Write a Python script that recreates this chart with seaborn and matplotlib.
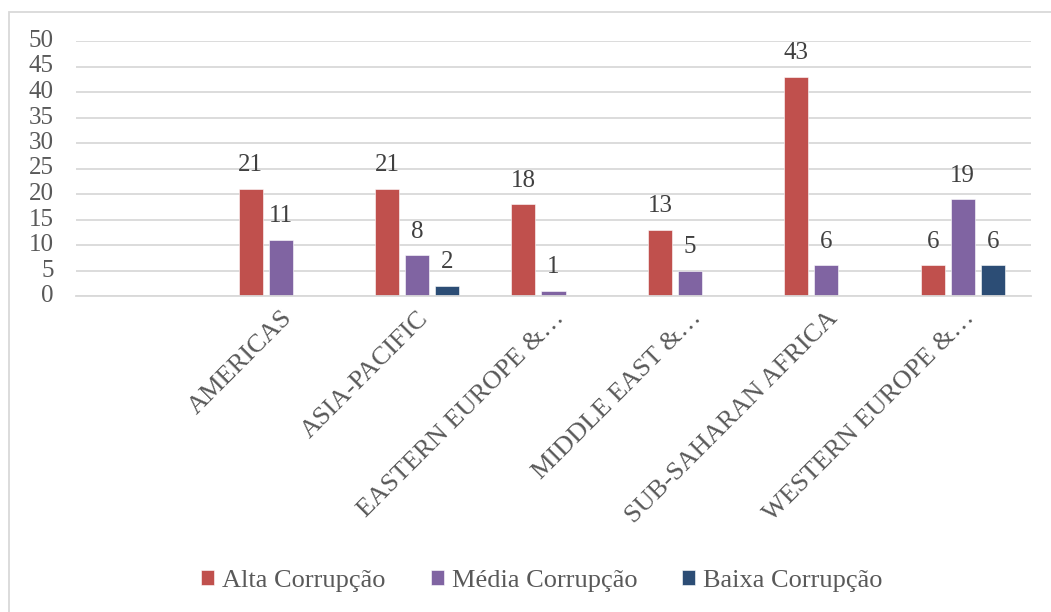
import numpy as np
import pandas as pd
import matplotlib
matplotlib.use("Agg")
import matplotlib.pyplot as plt
from matplotlib.patches import Rectangle
import seaborn as sns

# ---- data ----
regions = ["AMERICAS", "ASIA-PACIFIC", "EASTERN EUROPE &…", "MIDDLE EAST &…",
           "SUB-SAHARAN AFRICA", "WESTERN EUROPE &…"]
series = ["Alta Corrupção", "Média Corrupção", "Baixa Corrupção"]
alta = [21, 21, 18, 13, 43, 6]
media = [11, 8, 1, 5, 6, 19]
baixa = [np.nan, 2, np.nan, np.nan, np.nan, 6]
yticks = [0, 5, 10, 15, 20, 25, 30, 35, 40, 45, 50]
colors = ["#C0504D", "#8064A2", "#2C4D75"]

rows = []
for s, vals in zip(series, [alta, media, baixa]):
    for r, v in zip(regions, vals):
        if not np.isnan(v):
            rows.append({"Região": r, "Série": s, "Valor": v})
df = pd.DataFrame(rows)

sns.set_theme(style="white")
plt.rcParams["font.family"] = ["Liberation Serif", "DejaVu Serif"]
text_color = "#595959"
grid_color = "#D9D9D9"

fig = plt.figure(figsize=(10.51, 6.12), dpi=100)
ax = fig.add_axes([76 / 1051, 1 - 296 / 612, (1031 - 76) / 1051, (296 - 41) / 612])

order = [""] + regions
sns.barplot(data=df, x="Região", y="Valor", hue="Série", order=order,
            hue_order=series, palette=colors, width=0.66, gap=0.2,
            saturation=1, ax=ax, edgecolor="white", linewidth=0.4)

handles = ax.get_legend().legend_handles
ax.get_legend().remove()

for cont in ax.containers:
    ax.bar_label(cont, fmt="%g", padding=9, fontsize=18, color="#404040")

ax.set_ylim(0, 50)
ax.set_yticks(yticks)
ax.set_xlim(-0.5, len(order) - 0.5)
ax.set_xlabel("")
ax.set_ylabel("")
ax.yaxis.grid(True, color=grid_color, linewidth=1.3)
ax.set_axisbelow(True)
for side in ["left", "right", "top"]:
    ax.spines[side].set_visible(False)
ax.spines["bottom"].set_color(grid_color)
ax.spines["bottom"].set_linewidth(1.3)
ax.tick_params(axis="y", length=0, pad=16, labelsize=18, labelcolor=text_color)
ax.tick_params(axis="x", length=0, pad=8, labelsize=19, labelcolor=text_color)
for lbl in ax.get_yticklabels():
    lbl.set_verticalalignment("center")
for lbl in ax.get_xticklabels():
    lbl.set_rotation(45)
    lbl.set_ha("right")
    lbl.set_va("top")
    lbl.set_rotation_mode("anchor")

leg = fig.legend(handles, series, loc="center", bbox_to_anchor=(542 / 1051, 1 - 581 / 612),
                 ncol=3, frameon=False, fontsize=19, handlelength=0.5, handleheight=0.5,
                 handletextpad=0.3, columnspacing=1.7, labelcolor=text_color)

fig.patches.append(Rectangle((9 / 1051, -0.05), 1.1, 1 - 12 / 612 + 0.05,
                             transform=fig.transFigure, fill=False,
                             edgecolor=grid_color, linewidth=1.3, clip_on=False))

fig.savefig("out.png", dpi=100, facecolor="white")
